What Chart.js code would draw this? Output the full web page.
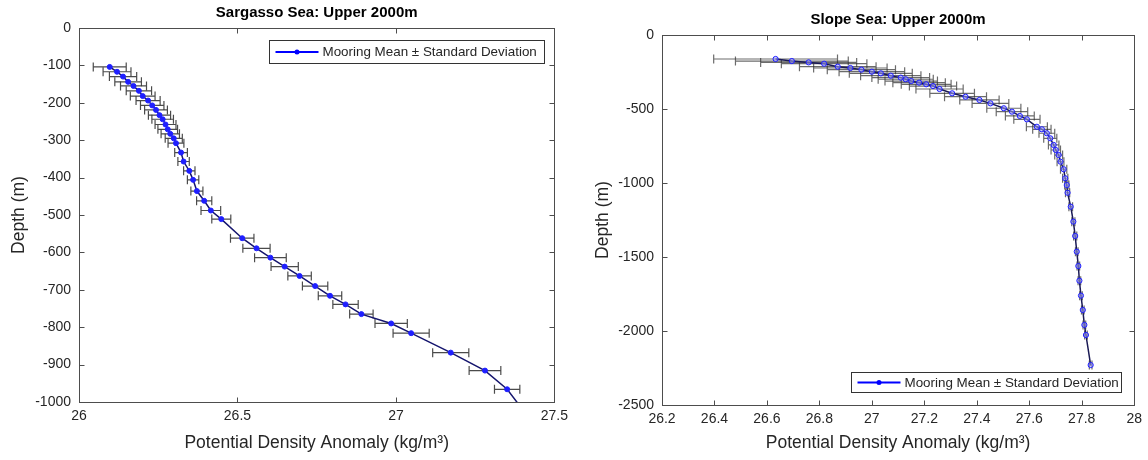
<!DOCTYPE html>
<html>
<head>
<meta charset="utf-8">
<script src="https://cdn.jsdelivr.net/npm/chart.js@4.4.0/dist/chart.umd.min.js"></script>
<style>
  body { margin: 0; background: #fff; }
  .pane { position: absolute; top: 0; width: 574px; height: 460px; }
</style>
</head>
<body>
<div class="pane" style="left:0"><canvas id="sargasso" width="574" height="460"></canvas></div>
<div class="pane" style="left:574px"><canvas id="slope" width="574" height="460"></canvas></div>
<script>
// Sargasso Sea mooring: mean potential density anomaly and std vs depth
var sargassoDepth = [-104, -117, -130, -144, -155, -168, -182, -194, -207, -219,
  -233, -244, -258, -271, -283, -295, -308, -333, -357, -382,
  -406, -436, -462, -488, -511, -562, -589, -614, -638, -663,
  -690, -716, -739, -765, -790, -816, -868, -916, -966, -1015];
var sargassoDensity = [26.097, 26.12, 26.139, 26.155, 26.172, 26.189, 26.201, 26.218, 26.231, 26.243,
  26.254, 26.264, 26.273, 26.28, 26.288, 26.299, 26.306, 26.322, 26.33, 26.348,
  26.36, 26.372, 26.395, 26.416, 26.449, 26.515, 26.56, 26.604, 26.649, 26.696,
  26.745, 26.792, 26.841, 26.891, 26.985, 27.048, 27.173, 27.281, 27.351, 27.395];
var sargassoStd = [0.052, 0.044, 0.043, 0.042, 0.041, 0.04, 0.039, 0.038, 0.037, 0.036,
  0.035, 0.034, 0.033, 0.031, 0.029, 0.027, 0.025, 0.02, 0.018, 0.018,
  0.018, 0.019, 0.024, 0.031, 0.03, 0.037, 0.043, 0.05, 0.043, 0.037,
  0.04, 0.037, 0.04, 0.037, 0.051, 0.057, 0.057, 0.05, 0.04, 0.04];

// Slope Sea mooring
var slopeDepth = [-162, -176, -185, -194, -214, -223, -234, -248, -259, -275,
  -288, -299, -311, -322, -333, -345, -365, -394, -417, -439,
  -462, -495, -518, -547, -570, -620, -637, -664, -698, -743,
  -777, -811, -856, -907, -968, -1014, -1066, -1160, -1261, -1358,
  -1464, -1561, -1660, -1761, -1858, -1959, -2027, -2230];
var slopeDensity = [26.633, 26.695, 26.759, 26.818, 26.87, 26.918, 26.96, 27.0, 27.034, 27.072,
  27.11, 27.129, 27.15, 27.18, 27.207, 27.233, 27.258, 27.306, 27.357, 27.41,
  27.452, 27.503, 27.534, 27.564, 27.591, 27.629, 27.648, 27.667, 27.68, 27.693,
  27.701, 27.712, 27.719, 27.731, 27.737, 27.743, 27.746, 27.758, 27.768, 27.775,
  27.781, 27.787, 27.791, 27.797, 27.804, 27.81, 27.816, 27.834];
var slopeStd = [0.236, 0.215, 0.183, 0.163, 0.146, 0.14, 0.13, 0.125, 0.12, 0.115,
  0.11, 0.105, 0.1, 0.1, 0.095, 0.09, 0.09, 0.085, 0.08, 0.075,
  0.07, 0.065, 0.06, 0.055, 0.05, 0.04, 0.035, 0.03, 0.025, 0.02,
  0.018, 0.015, 0.013, 0.012, 0.01, 0.008, 0.008, 0.007, 0.006, 0.006,
  0.005, 0.005, 0.005, 0.005, 0.005, 0.005, 0.005, 0.005];

var xTitle = 'Potential Density Anomaly (kg/m\u00B3)';
var legendText = 'Mooring Mean \u00B1 Standard Deviation';
var textColor = '#262626';

Chart.defaults.font.family = '"Liberation Sans", Arial, sans-serif';
Chart.defaults.color = textColor;

// horizontal error bars, drawn under the line
var errorBars = {
  id: 'errorBars',
  beforeDatasetsDraw: function (chart) {
    var o = chart.options.plugins.errorBars;
    var xs = chart.scales.x, ys = chart.scales.y, a = chart.chartArea;
    var ctx = chart.ctx;
    ctx.save();
    ctx.beginPath();
    ctx.rect(a.left, a.top, a.right - a.left, a.bottom - a.top);
    ctx.clip();
    ctx.strokeStyle = o.color;
    ctx.lineWidth = 1.2;
    for (var i = 0; i < o.mean.length; i++) {
      var y = ys.getPixelForValue(o.depth[i]);
      var x0 = xs.getPixelForValue(o.mean[i] - o.std[i]);
      var x1 = xs.getPixelForValue(o.mean[i] + o.std[i]);
      ctx.beginPath();
      ctx.moveTo(x0, y); ctx.lineTo(x1, y);
      ctx.moveTo(x0, y - o.cap); ctx.lineTo(x0, y + o.cap);
      ctx.moveTo(x1, y - o.cap); ctx.lineTo(x1, y + o.cap);
      ctx.stroke();
    }
    ctx.restore();
  }
};

// matlab style box with inward ticks on all sides, legend and title
var axesBox = {
  id: 'axesBox',
  afterDraw: function (chart) {
    var a = chart.chartArea, ctx = chart.ctx;
    var L = Math.round(a.left) + 0.5, R = Math.round(a.right) + 0.5;
    var T = Math.round(a.top) + 0.5, B = Math.round(a.bottom) + 0.5;
    ctx.save();
    ctx.strokeStyle = '#4d4d4d';
    ctx.lineWidth = 1;
    ctx.strokeRect(L, T, R - L, B - T);
    ctx.beginPath();
    chart.scales.x.ticks.forEach(function (t) {
      var px = Math.round(chart.scales.x.getPixelForValue(t.value)) + 0.5;
      ctx.moveTo(px, B); ctx.lineTo(px, B - 5);
      ctx.moveTo(px, T); ctx.lineTo(px, T + 5);
    });
    chart.scales.y.ticks.forEach(function (t) {
      var py = Math.round(chart.scales.y.getPixelForValue(t.value)) + 0.5;
      ctx.moveTo(L, py); ctx.lineTo(L + 5, py);
      ctx.moveTo(R, py); ctx.lineTo(R - 5, py);
    });
    ctx.stroke();

    var lg = chart.options.plugins.boxLegend;
    var bx = a.right - lg.right - lg.w;
    var by = lg.top != null ? a.top + lg.top : a.bottom - lg.bottom - lg.h;
    bx = Math.round(bx) + 0.5; by = Math.round(by) + 0.5;
    ctx.fillStyle = '#fff';
    ctx.fillRect(bx, by, lg.w, lg.h);
    ctx.strokeStyle = '#333';
    ctx.strokeRect(bx, by, lg.w, lg.h);
    var cy = by + lg.h / 2;
    ctx.strokeStyle = '#0000ff';
    ctx.lineWidth = 2;
    ctx.beginPath();
    ctx.moveTo(bx + 6, cy); ctx.lineTo(bx + 49, cy);
    ctx.stroke();
    ctx.fillStyle = '#0000ff';
    ctx.beginPath();
    ctx.arc(bx + 27.5, cy, 2.5, 0, Math.PI * 2);
    ctx.fill();
    ctx.fillStyle = textColor;
    ctx.font = '13.4px "Liberation Sans", Arial, sans-serif';
    ctx.textBaseline = 'middle';
    ctx.fillText(legendText, bx + 53, cy + 0.5);

    ctx.fillStyle = '#000';
    ctx.font = 'bold 15px "Liberation Sans", Arial, sans-serif';
    ctx.textAlign = 'center';
    ctx.fillText(lg.title, (a.left + a.right) / 2, a.top - 15);
    ctx.restore();
  }
};

function makeChart(id, cfg) {
  var pts = cfg.mean.map(function (m, i) { return { x: m, y: cfg.depth[i] }; });
  return new Chart(document.getElementById(id), {
    type: 'scatter',
    data: {
      datasets: [{
        data: pts,
        showLine: true,
        borderColor: cfg.lineColor,
        borderWidth: 1.5,
        pointRadius: cfg.radius,
        pointBackgroundColor: cfg.pointFill,
        pointBorderColor: '#1f1fff',
        pointBorderWidth: 1
      }]
    },
    options: {
      responsive: false,
      animation: false,
      layout: { padding: { left: 0, top: cfg.top, right: cfg.right, bottom: 0 } },
      scales: {
        x: {
          type: 'linear', min: cfg.xMin, max: cfg.xMax,
          ticks: { stepSize: cfg.xStep, padding: 6, font: { size: 14 },
            callback: function (v) { return String(Math.round(v * 10) / 10); } },
          grid: { display: false, drawTicks: false },
          border: { display: false },
          title: { display: true, text: xTitle, font: { size: 17.5 }, padding: { top: 0, bottom: 6.5 } },
          afterFit: function (s) { s.height = cfg.xHeight; }
        },
        y: {
          type: 'linear', min: cfg.yMin, max: 0,
          ticks: { stepSize: cfg.yStep, padding: 8, font: { size: 14 },
            callback: function (v) { return String(v); } },
          grid: { display: false, drawTicks: false },
          border: { display: false },
          title: { display: true, text: 'Depth (m)', font: { size: 17.5 }, padding: { top: cfg.yTitlePad, bottom: 0 } },
          afterFit: function (s) { s.width = cfg.yWidth; }
        }
      },
      plugins: {
        legend: { display: false },
        tooltip: { enabled: false },
        errorBars: { mean: cfg.mean, std: cfg.std, depth: cfg.depth, color: cfg.barColor, cap: 4.5 },
        boxLegend: cfg.legend
      }
    },
    plugins: [errorBars, axesBox]
  });
}

makeChart('sargasso', {
  mean: sargassoDensity, std: sargassoStd, depth: sargassoDepth,
  xMin: 26, xMax: 27.5, xStep: 0.5, yMin: -1000, yStep: 100,
  top: 28, right: 16, xHeight: 58, yWidth: 79, yTitlePad: 9,
  lineColor: '#15156e', pointFill: '#1f1fff', radius: 2.5,
  barColor: 'rgba(55,55,55,0.9)',
  legend: { title: 'Sargasso Sea: Upper 2000m', right: 10, top: 12, w: 275, h: 23 }
});

makeChart('slope', {
  mean: slopeDensity, std: slopeStd, depth: slopeDepth,
  xMin: 26.2, xMax: 28, xStep: 0.2, yMin: -2500, yStep: 500,
  top: 35, right: 12, xHeight: 55, yWidth: 88, yTitlePad: 19,
  lineColor: '#1a1a55', pointFill: 'rgba(160,160,255,0.55)', radius: 2.6,
  barColor: 'rgba(50,50,50,0.72)',
  legend: { title: 'Slope Sea: Upper 2000m', right: 13, bottom: 13, w: 270, h: 20 }
});
</script>
</body>
</html>
